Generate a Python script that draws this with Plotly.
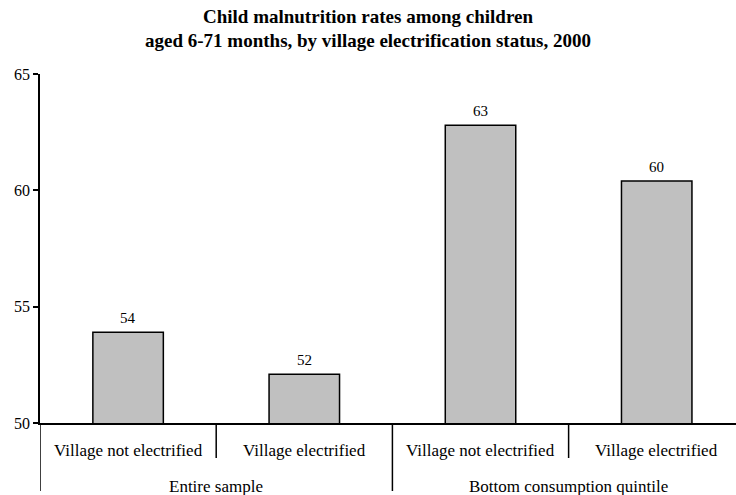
import plotly.graph_objects as go

# Malnutrition rates (%) among children aged 6-71 months, 2000
groups = ["Entire sample", "Entire sample",
          "Bottom consumption quintile", "Bottom consumption quintile"]
status = ["Village not electrified", "Village electrified",
          "Village not electrified", "Village electrified"]
rates = [53.9, 52.1, 62.8, 60.4]

y_ticks = [50, 55, 60, 65]

serif = "Liberation Serif, Times New Roman, serif"
positions = list(range(len(rates)))

fig = go.Figure(
    go.Bar(
        x=positions,
        y=rates,
        width=0.4,
        marker=dict(color="#C0C0C0", line=dict(color="black", width=1.5)),
        hovertext=[f"{g} – {s}" for g, s in zip(groups, status)],
    )
)

annotations = []
shapes = []

# value labels above each bar
for p, v in zip(positions, rates):
    annotations.append(dict(
        x=p, y=v, xref="x", yref="y", text=f"{v:.0f}",
        showarrow=False, yanchor="bottom", yshift=4,
        font=dict(family=serif, size=15, color="black"),
    ))

# first row of category labels: electrification status
for p, s in zip(positions, status):
    annotations.append(dict(
        x=p, y=0, xref="x", yref="paper", text=s,
        showarrow=False, yanchor="middle", yshift=-27,
        font=dict(family=serif, size=17, color="black"),
    ))

# second row: sample groups, centred under their members
seen = []
for g in groups:
    if g not in seen:
        seen.append(g)
for g in seen:
    idx = [p for p, gg in zip(positions, groups) if gg == g]
    annotations.append(dict(
        x=sum(idx) / len(idx), y=0, xref="x", yref="paper", text=g,
        showarrow=False, yanchor="middle", yshift=-63,
        font=dict(family=serif, size=17, color="black"),
    ))

# dividers: full height between groups, short between statuses
for b in range(len(positions) + 1):
    left = groups[b - 1] if b > 0 else None
    right = groups[b] if b < len(groups) else None
    depth = -68 if left != right else -35
    shapes.append(dict(
        type="line", xref="x", yref="paper",
        x0=b - 0.5, x1=b - 0.5,
        ysizemode="pixel", yanchor=0, y0=0, y1=depth,
        line=dict(color="black", width=1.5),
    ))

fig.update_layout(
    width=736,
    height=495,
    margin=dict(l=40, r=0, t=74, b=72),
    paper_bgcolor="white",
    plot_bgcolor="white",
    showlegend=False,
    font=dict(family=serif, size=15, color="black"),
    annotations=annotations,
    shapes=shapes,
    title=dict(
        text="<b>Child malnutrition rates among children<br>"
             "aged 6-71 months, by village electrification status, 2000</b>",
        x=0.5, xref="container", xanchor="center",
        y=0.954, yref="container", yanchor="top",
        font=dict(family=serif, size=19, color="black"),
    ),
)

fig.update_xaxes(
    range=[-0.5, 3.45],
    showticklabels=False, ticks="",
    showline=True, linecolor="black", linewidth=1.5,
    showgrid=False, zeroline=False,
)

fig.update_yaxes(
    range=[50, 65],
    tickvals=y_ticks,
    showline=True, linecolor="black", linewidth=1.5,
    ticks="outside", ticklen=5, tickcolor="black", tickwidth=1.5,
    showgrid=False, zeroline=False,
    tickfont=dict(family=serif, size=16, color="black"),
)

fig.write_html("out.html")
